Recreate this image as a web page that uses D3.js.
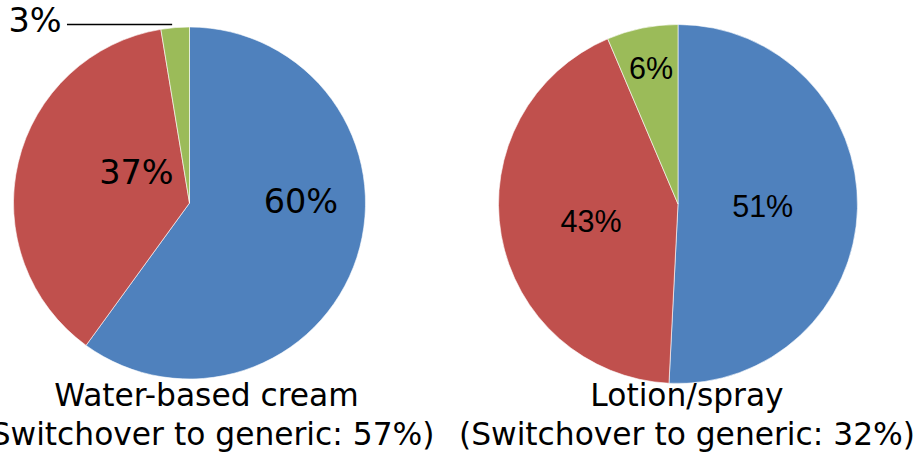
<!DOCTYPE html>
<html>
<head>
<meta charset="utf-8">
<script src="https://cdn.jsdelivr.net/npm/d3@7"></script>
<style>
  body { margin: 0; background: #fff; }
  svg { display: block; }
</style>
</head>
<body>
<svg id="chart" width="918" height="452"></svg>
<script>
// shares of each pie, in percent (blue, red, green)
var categories = ["A", "B", "C"];
var creamValues = [60.0, 37.4, 2.6];
var lotionValues = [50.8, 42.8, 6.4];
var creamLabels = ["60%", "37%", "3%"];
var lotionLabels = ["51%", "43%", "6%"];
var creamTitle = ["Water-based cream", "(Switchover to generic: 57%)"];
var lotionTitle = ["Lotion/spray", "(Switchover to generic: 32%)"];

var colors = d3.scaleOrdinal().domain(categories).range(["#4F81BD", "#C0504D", "#9BBB59"]);

var svg = d3.select("#chart");

// label placement: [angle in degrees clockwise from 12 o'clock, fraction of radius]
var creamLabelPolar = [[88.7, 0.633], [300.6, 0.35], [319.9, 1.363]];
var lotionLabelPolar = [[91.3, 0.472], [258.9, 0.494], [348.8, 0.775]];

var pies = [
    { values: creamValues, labels: creamLabels, title: creamTitle, cx: 189.5, cy: 203, r: 176,
      polar: creamLabelPolar, font: "DejaVu Sans", fontSize: 33.5, titleX: 206.5, leader: 2 },
    { values: lotionValues, labels: lotionLabels, title: lotionTitle, cx: 678, cy: 204, r: 179.5,
      polar: lotionLabelPolar, font: "Liberation Sans", fontSize: 30.5, titleX: 687, leader: -1 }
];

var pie = d3.pie().sort(null).value(function (d) { return d; });

pies.forEach(function (p) {
    var g = svg.append("g").attr("transform", "translate(" + p.cx + "," + p.cy + ")");
    var arc = d3.arc().innerRadius(0).outerRadius(p.r);
    var arcs = pie(p.values);

    g.selectAll("path.slice")
        .data(arcs)
        .enter().append("path")
        .attr("class", "slice")
        .attr("d", arc)
        .attr("fill", function (d, i) { return colors(categories[i]); })
        .attr("stroke", "#fff")
        .attr("stroke-width", 0.6);

    g.selectAll("text.lbl")
        .data(arcs)
        .enter().append("text")
        .attr("class", "lbl")
        .attr("transform", function (d, i) {
            var pt = d3.pointRadial(p.polar[i][0] * Math.PI / 180, p.polar[i][1] * p.r);
            return "translate(" + pt[0] + "," + pt[1] + ")";
        })
        .attr("text-anchor", "middle")
        .attr("dy", "0.36em")
        .style("font-family", p.font)
        .style("font-size", p.fontSize + "px")
        .attr("fill", "#000")
        .text(function (d, i) { return p.labels[i]; });

    // leader line for an outside label
    if (p.leader >= 0) {
        var d = arcs[p.leader];
        var lp = d3.pointRadial(p.polar[p.leader][0] * Math.PI / 180, p.polar[p.leader][1] * p.r);
        var edge = d3.pointRadial((d.startAngle + d.endAngle) / 2, p.r);
        g.append("line")
            .attr("x1", lp[0] + 32)
            .attr("x2", edge[0] - 3)
            .attr("y1", lp[1] + 5)
            .attr("y2", lp[1] + 5)
            .attr("stroke", "#000")
            .attr("stroke-width", 1.5);
    }

    svg.append("text")
        .attr("x", p.titleX)
        .attr("y", 406)
        .attr("text-anchor", "middle")
        .style("font-family", "DejaVu Sans")
        .style("font-size", "31.3px")
        .text(p.title[0]);
    svg.append("text")
        .attr("x", p.titleX)
        .attr("y", 445)
        .attr("text-anchor", "middle")
        .style("font-family", "DejaVu Sans")
        .style("font-size", "31.3px")
        .text(p.title[1]);
});
</script>
</body>
</html>
